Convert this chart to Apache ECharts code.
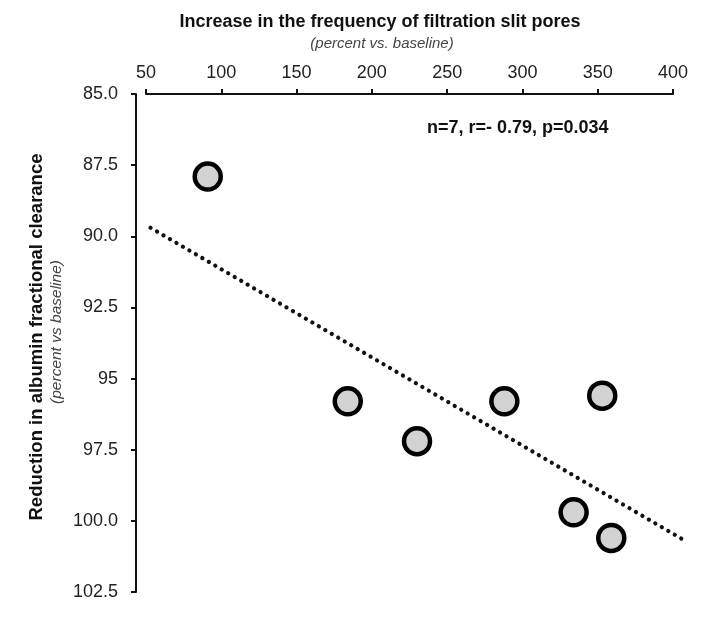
<!DOCTYPE html>
<html>
<head>
<meta charset="utf-8">
<script src="https://cdn.jsdelivr.net/npm/echarts@6/dist/echarts.min.js"></script>
<style>
  html, body { margin: 0; padding: 0; background: #fff; }
  #chart { width: 705px; height: 623px; }
</style>
</head>
<body>
<div id="chart"></div>
<script>
  // 数据
  var poresIncrease = [91, 184, 230, 288, 353, 334, 359];
  var albuminReduction = [87.9, 95.8, 97.2, 95.8, 95.6, 99.7, 100.6];
  var trendX = [53, 408];
  var trendY = [89.7, 100.7];
  var yTickLabels = {'85': '85.0', '87.5': '87.5', '90': '90.0', '92.5': '92.5',
    '95': '95', '97.5': '97.5', '100': '100.0', '102.5': '102.5'};

  var font = '"Liberation Sans", Arial, Helvetica, sans-serif';

  // stippled fill for the markers
  var pat = document.createElement('canvas');
  pat.width = 3; pat.height = 3;
  var pctx = pat.getContext('2d');
  pctx.fillStyle = '#d2d2d2';
  pctx.fillRect(0, 0, 3, 3);
  pctx.fillStyle = '#222';
  pctx.fillRect(1, 1, 1, 1);

  var points = poresIncrease.map(function (x, i) { return [x, albuminReduction[i]] });
  var trend = trendX.map(function (x, i) { return [x, trendY[i]] });

  var myChart = echarts.init(document.getElementById('chart'));
  var option = {
    animation: false,
    grid: [
      { left: 146, right: 32, top: 94, bottom: 31 },
      // same scale, a bit wider: the dotted line runs past 400
      { left: 146, right: 20, top: 94, bottom: 31 }
    ],
    graphic: [
      {
        type: 'text',
        style: { text: 'Increase in the frequency of filtration slit pores', x: 380, y: 22,
          align: 'center', verticalAlign: 'middle', fill: '#111',
          font: 'bold 18px ' + font }
      },
      {
        type: 'text',
        style: { text: '(percent vs. baseline)', x: 382, y: 44,
          align: 'center', verticalAlign: 'middle', fill: '#444',
          font: 'italic 15px ' + font }
      },
      {
        type: 'text', x: 37, y: 337, rotation: Math.PI / 2,
        style: { text: 'Reduction in albumin fractional clearance',
          align: 'center', verticalAlign: 'middle', fill: '#111',
          font: 'bold 18.5px ' + font }
      },
      {
        type: 'text', x: 57, y: 332, rotation: Math.PI / 2,
        style: { text: '(percent vs baseline)',
          align: 'center', verticalAlign: 'middle', fill: '#444',
          font: 'italic 15.5px ' + font }
      },
      {
        type: 'text',
        style: { text: 'n=7, r=- 0.79, p=0.034', x: 427, y: 128,
          align: 'left', verticalAlign: 'middle', fill: '#111',
          font: 'bold 18px ' + font }
      }
    ],
    xAxis: [
      {
        type: 'value',
        gridIndex: 0,
        position: 'top',
        min: 50,
        max: 400,
        interval: 50,
        splitLine: { show: false },
        axisLine: { show: true, lineStyle: { color: '#111', width: 2 } },
        axisTick: { show: true, length: 5, lineStyle: { color: '#111', width: 2 } },
        axisLabel: { margin: 12, color: '#222', fontSize: 18, fontFamily: font }
      },
      { type: 'value', gridIndex: 1, min: 50, max: 408, show: false }
    ],
    yAxis: [
      {
        type: 'value',
        gridIndex: 0,
        inverse: true,
        min: 85,
        max: 102.5,
        interval: 2.5,
        offset: 10,
        splitLine: { show: false },
        axisLine: { show: true, lineStyle: { color: '#111', width: 2 } },
        axisTick: { show: true, length: 5, lineStyle: { color: '#111', width: 2 } },
        axisLabel: {
          margin: 18, color: '#222', fontSize: 18, fontFamily: font,
          formatter: function (v) { return yTickLabels[String(v)] || String(v) }
        }
      },
      { type: 'value', gridIndex: 1, inverse: true, min: 85, max: 102.5, show: false }
    ],
    series: [
      {
        type: 'line',
        xAxisIndex: 1,
        yAxisIndex: 1,
        data: trend,
        showSymbol: false,
        silent: true,
        lineStyle: { color: '#111', width: 4.2, type: [0.1, 7.4], cap: 'round' }
      },
      {
        type: 'scatter',
        data: points,
        symbolSize: 26,
        itemStyle: { color: { image: pat, repeat: 'repeat' }, borderColor: '#000', borderWidth: 4.5, opacity: 1 }
      }
    ]
  };
  myChart.setOption(option);
</script>
</body>
</html>
